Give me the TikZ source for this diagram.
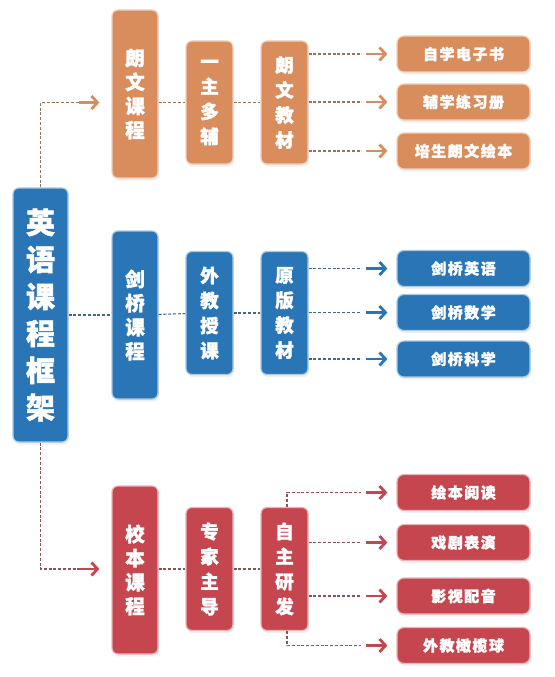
\documentclass[tikz,border=0pt]{standalone}
\usepackage{fontspec}
\newfontfamily\cjk{Noto Sans CJK SC}[BoldFeatures = {FakeBold = 1.6}]
\newfontfamily\cjkleaf{Noto Sans CJK SC}[LetterSpace = 10, BoldFeatures = {FakeBold = 1.6}]
\usetikzlibrary{arrows.meta, shadows}

\definecolor{lworange}{RGB}{217,141,93}
\definecolor{jqblue}{RGB}{41,117,182}
\definecolor{xbred}{RGB}{198,70,79}

\tikzset{
    box/.style = {rounded corners = 6pt, fill = #1, draw = #1!40!white, line width = 1.2pt,
        text = white, align = center, inner sep = 0pt,
        drop shadow = {opacity = 0.12, shadow xshift = 1pt, shadow yshift = -2.5pt}},
    rootbox/.style = {minimum width = 55pt, minimum height = 254pt,
        font = \cjk\bfseries\fontsize{29}{37}\selectfont},
    kcbox/.style = {minimum width = 46pt, minimum height = 168pt,
        font = \cjk\bfseries\fontsize{19.5}{24}\selectfont},
    midbox/.style = {minimum width = 47pt, minimum height = 123pt,
        font = \cjk\bfseries\fontsize{18.5}{25}\selectfont},
    leaf/.style = {minimum width = 133pt, minimum height = 36pt, rounded corners = 7pt,
        font = \cjkleaf\bfseries\fontsize{15}{15}\selectfont},
    dashline/.style = {draw = #1!55!gray!85!black, dash pattern = on 3pt off 1.8pt, line width = 1.1pt},
    arrowline/.style = {draw = #1, line width = 2.8pt,
        -{Straight Barb[length = 6pt, width = 13pt]}}
}

\begin{document}
\begin{tikzpicture}[x = 1pt, y = -1pt]
    \fill[white] (0,0) rectangle (554,677);
    \useasboundingbox (0,0) rectangle (554,677);

    % root
    \node[box = jqblue, rootbox] (root) at (40.5,315) {英\\语\\课\\程\\框\\架};

    % 朗文
    \node[box = lworange, kcbox] (lwkc) at (135,94) {朗\\文\\课\\程};
    \node[box = lworange, midbox] (yzdf) at (209.5,102.5) {一\\主\\多\\辅};
    \node[box = lworange, midbox] (lwjc) at (284.5,102.5) {朗\\文\\教\\材};
    \draw[dashline = lworange] (root.north) -- (root.north |- yzdf) -- ([xshift = -32pt]lwkc.west |- yzdf);
    \draw[arrowline = lworange] ([xshift = -32pt]lwkc.west |- yzdf) -- ([xshift = -12pt]lwkc.west |- yzdf);
    \draw[dashline = lworange] (lwkc.east |- yzdf) -- (yzdf);
    \draw[dashline = lworange] (yzdf) -- (lwjc);
    \foreach \name/\y/\txt in {a/54/自学电子书, b/102/辅学练习册, c/151/培生朗文绘本} {
        \node[box = lworange, leaf] (lw\name) at (463.5,\y) {\txt};
        \draw[dashline = lworange] (lwjc.east |- lw\name) -- ([xshift = -35pt]lw\name.west);
        \draw[arrowline = lworange] ([xshift = -30pt]lw\name.west) -- ([xshift = -9pt]lw\name.west);
    }

    % 剑桥
    \node[box = jqblue, kcbox] (jqkc) at (135,315) {剑\\桥\\课\\程};
    \node[box = jqblue, midbox] (wjsk) at (209.5,313) {外\\教\\授\\课};
    \node[box = jqblue, midbox] (ybjc) at (284.5,313) {原\\版\\教\\材};
    \draw[dashline = jqblue] (root.east |- jqkc) -- (jqkc);
    \draw[dashline = jqblue] (jqkc) -- (wjsk);
    \draw[dashline = jqblue] (wjsk) -- (ybjc);
    \foreach \name/\y/\txt in {a/268.5/剑桥英语, b/312.5/剑桥数学, c/359/剑桥科学} {
        \node[box = jqblue, leaf] (jq\name) at (463.5,\y) {\txt};
        \draw[dashline = jqblue] (ybjc.east |- jq\name) -- ([xshift = -35pt]jq\name.west);
        \draw[arrowline = jqblue] ([xshift = -30pt]jq\name.west) -- ([xshift = -9pt]jq\name.west);
    }

    % 校本
    \node[box = xbred, kcbox] (xbkc) at (135,570) {校\\本\\课\\程};
    \node[box = xbred, midbox] (zjzd) at (209.5,569) {专\\家\\主\\导};
    \node[box = xbred, midbox] (zzyf) at (284.5,569) {自\\主\\研\\发};
    \draw[dashline = xbred] (root.south) -- (root.south |- zjzd) -- ([xshift = -32pt]xbkc.west |- zjzd);
    \draw[arrowline = xbred] ([xshift = -32pt]xbkc.west |- zjzd) -- ([xshift = -12pt]xbkc.west |- zjzd);
    \draw[dashline = xbred] (xbkc.east |- zjzd) -- (zjzd);
    \draw[dashline = xbred] (zjzd) -- (zzyf);
    \foreach \name/\y/\txt in {a/492.5/绘本阅读, b/542.5/戏剧表演, c/596/影视配音, d/645.5/外教橄榄球} {
        \node[box = xbred, leaf] (xb\name) at (463.5,\y) {\txt};
        \draw[arrowline = xbred] ([xshift = -30pt]xb\name.west) -- ([xshift = -9pt]xb\name.west);
    }
    \draw[dashline = xbred] ([xshift = 2.5pt]zzyf.north) -- ([xshift = 2.5pt]zzyf.north |- xba) -- ([xshift = -35pt]xba.west);
    \draw[dashline = xbred] (zzyf.east |- xbb) -- ([xshift = -35pt]xbb.west);
    \draw[dashline = xbred] (zzyf.east |- xbc) -- ([xshift = -35pt]xbc.west);
    \draw[dashline = xbred] ([xshift = 2.5pt]zzyf.south) -- ([xshift = 2.5pt]zzyf.south |- xbd) -- ([xshift = -35pt]xbd.west);
\end{tikzpicture}
\end{document}
